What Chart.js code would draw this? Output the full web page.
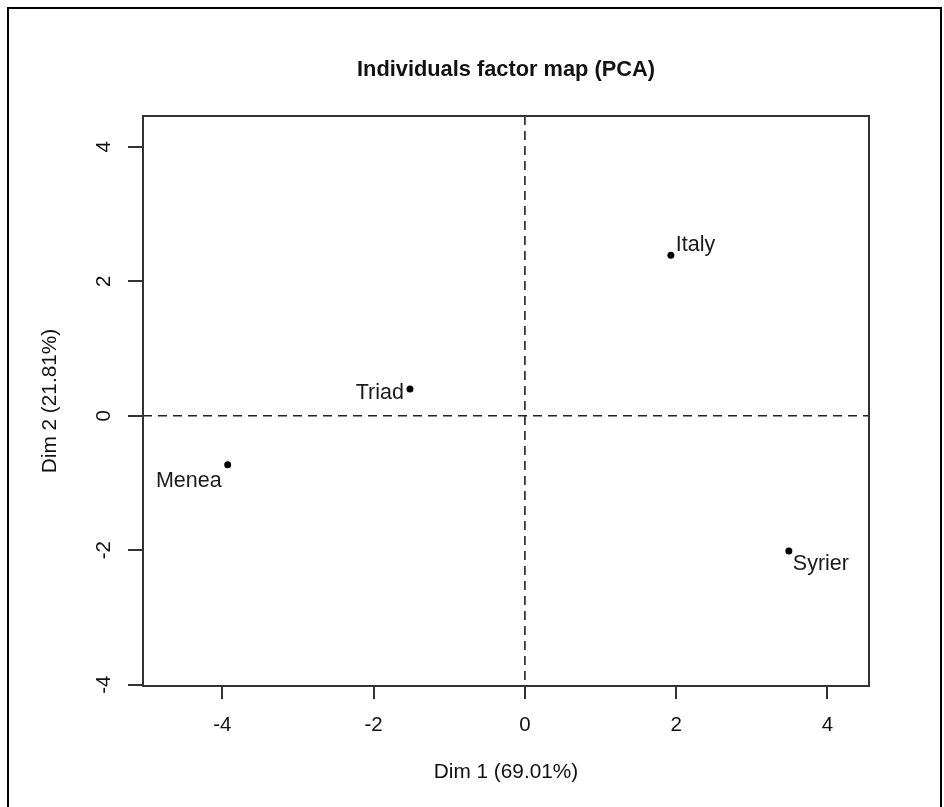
<!DOCTYPE html>
<html>
<head>
<meta charset="utf-8">
<title>Individuals factor map (PCA)</title>
<script src="https://cdn.jsdelivr.net/npm/chart.js@4.4.1/dist/chart.umd.min.js"></script>
<style>
  html, body { margin: 0; padding: 0; background: #fff; }
  #wrap { position: relative; width: 944px; height: 807px; overflow: hidden; }
  #frame { position: absolute; left: 7px; top: 7px; width: 931px; height: 830px; border: 2px solid #000; pointer-events: none; }
  #pca { position: absolute; left: 0; top: 0; }
</style>
</head>
<body>
<div id="wrap">
  <canvas id="pca" width="944" height="807"></canvas>
  <div id="frame"></div>
</div>
<script>
// individuals and their coordinates on the first two components
const names = ['Italy', 'Triad', 'Menea', 'Syrier'];
const dim1 = [1.93, -1.52, -3.93, 3.49];
const dim2 = [2.39, 0.40, -0.73, -2.01];

const xTicks = [-4, -2, 0, 2, 4];
const yTicks = [-4, -2, 0, 2, 4];

const xTitle = 'Dim 1 (69.01%)';
const yTitle = 'Dim 2 (21.81%)';
const mainTitle = 'Individuals factor map (PCA)';

// where each name sits relative to its point
const labelPlace = [
  { align: 'left', dx: 5, dy: -10 },
  { align: 'right', dx: -6, dy: 4 },
  { align: 'right', dx: -6, dy: 16 },
  { align: 'left', dx: 4, dy: 13 }
];

const FONT = '"Liberation Sans", Arial, sans-serif';
const INK = '#222';

const points = names.map((n, i) => ({ x: dim1[i], y: dim2[i], label: n }));

// frame, dashed origin lines, title over the plot box, point names
const factorFrame = {
  id: 'factorFrame',
  beforeDatasetsDraw(chart) {
    const { ctx, chartArea: a, scales: { x, y } } = chart;
    const x0 = x.getPixelForValue(0);
    const y0 = y.getPixelForValue(0);
    ctx.save();
    ctx.strokeStyle = INK;
    ctx.lineWidth = 1.6;
    ctx.setLineDash([9, 6]);
    ctx.beginPath();
    ctx.moveTo(a.left, y0); ctx.lineTo(a.right, y0);
    ctx.moveTo(x0, a.top); ctx.lineTo(x0, a.bottom);
    ctx.stroke();
    ctx.setLineDash([]);
    ctx.lineWidth = 2;
    ctx.strokeStyle = '#333';
    ctx.strokeRect(a.left, a.top, a.right - a.left, a.bottom - a.top);

    ctx.font = 'bold 21.8px ' + FONT;
    ctx.fillStyle = '#111';
    ctx.textAlign = 'center';
    ctx.textBaseline = 'middle';
    ctx.fillText(mainTitle, (a.left + a.right) / 2, 70);
    ctx.restore();
  },
  afterDatasetsDraw(chart) {
    const { ctx } = chart;
    const meta = chart.getDatasetMeta(0);
    ctx.save();
    ctx.font = '21.5px ' + FONT;
    ctx.fillStyle = '#1a1a1a';
    ctx.textBaseline = 'middle';
    meta.data.forEach((el, i) => {
      const p = labelPlace[i];
      ctx.textAlign = p.align;
      ctx.fillText(names[i], el.x + p.dx, el.y + p.dy);
    });
    ctx.restore();
  }
};

new Chart(document.getElementById('pca'), {
  type: 'scatter',
  data: {
    datasets: [{
      label: 'individuals',
      data: points,
      backgroundColor: '#000',
      borderColor: '#000',
      pointRadius: 3.5,
      pointHoverRadius: 3.5,
      borderWidth: 0
    }]
  },
  options: {
    responsive: false,
    animation: false,
    events: [],
    layout: { padding: { left: 0, right: 75, top: 116, bottom: 0 } },
    plugins: {
      legend: { display: false },
      tooltip: { enabled: false },
      title: { display: false }
    },
    scales: {
      x: {
        type: 'linear',
        min: -5.05, max: 4.55,
        afterBuildTicks: s => { s.ticks = xTicks.map(v => ({ value: v })); },
        afterFit: s => { s.height = 121; },
        border: { display: false },
        grid: { drawOnChartArea: false, drawTicks: true, tickLength: 13, color: '#333', lineWidth: 2 },
        ticks: { color: '#111', padding: 13.7, font: { family: FONT, size: 20.5 }, maxRotation: 0 },
        title: { display: true, text: xTitle, color: '#111', font: { family: FONT, size: 20.8 }, padding: { top: 0, bottom: 22.7 } }
      },
      y: {
        type: 'linear',
        min: -4.02, max: 4.46,
        afterBuildTicks: s => { s.ticks = yTicks.map(v => ({ value: v })); },
        afterFit: s => { s.width = 143; },
        border: { display: false },
        grid: { drawOnChartArea: false, drawTicks: true, tickLength: 15, color: '#333', lineWidth: 2 },
        ticks: { color: '#111', padding: 14.5, crossAlign: 'center', minRotation: 90, maxRotation: 90, font: { family: FONT, size: 20.5 } },
        title: { display: true, text: yTitle, color: '#111', font: { family: FONT, size: 20.8 }, padding: { top: 37.5, bottom: 0 } }
      }
    }
  },
  plugins: [factorFrame]
});
</script>
</body>
</html>
